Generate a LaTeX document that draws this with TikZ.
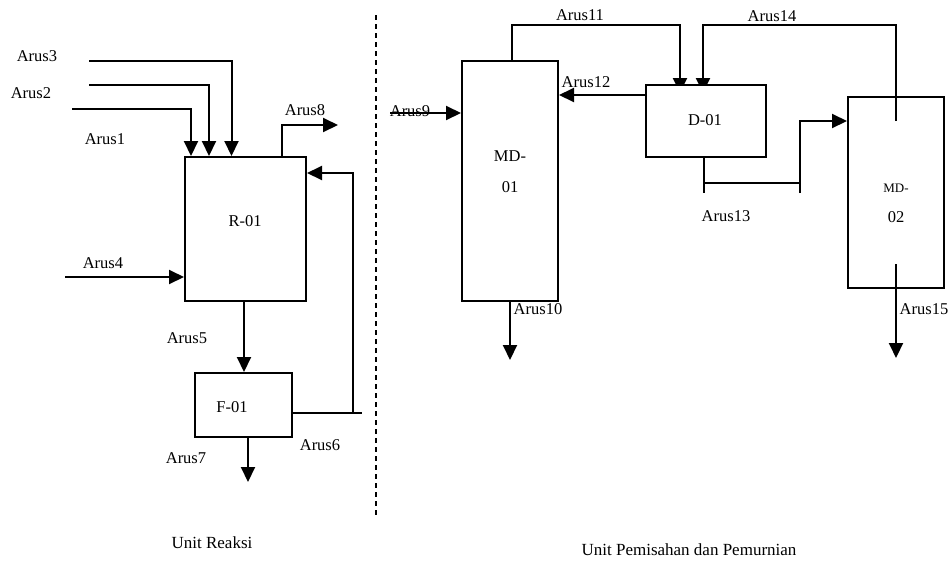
\documentclass[tikz,border=0pt]{standalone}
\usepackage{fontspec}
\setmainfont{Liberation Serif}
\usetikzlibrary{arrows.meta}
\pgfdeclarelayer{background}
\pgfsetlayers{background,main}
\begin{document}
\begin{tikzpicture}[x=1pt,y=-1pt,
  box/.style={draw,line width=2pt,fill=white,inner sep=0pt},
  lbl/.style={font=\fontsize{16.5}{18}\selectfont,inner sep=0pt},
  smalllbl/.style={font=\fontsize{13}{15}\selectfont,inner sep=0pt},
  unitlbl/.style={font=\fontsize{17}{19}\selectfont,inner sep=0pt},
  flow/.style={line width=2pt},
  arr/.style={flow,-{Triangle[length=15pt,width=14pt]}}]
\useasboundingbox (0,0) rectangle (952,563);
% boxes
\node[box,minimum width=121pt,minimum height=144pt] (R01) at (245.5,229) {};
\node[box,minimum width=97pt,minimum height=64pt] (F01) at (243.5,405) {};
\node[box,minimum width=96pt,minimum height=240pt] (MD01) at (510,181) {};
\node[box,minimum width=120pt,minimum height=72pt] (D01) at (706,121) {};
\node[box,minimum width=96pt,minimum height=191pt] (MD02) at (896,192.5) {};
% box texts
\node[lbl] (tR01) at (245,221) {R-01};
\node[lbl] (tF01) at (232,407) {F-01};
\node[lbl] (tMD01a) at (510,156) {MD-};
\node[lbl] (tMD01b) at (510,187) {01};
\node[lbl] (tD01) at (705,120) {D-01};
\node[smalllbl] (tMD02a) at (896,188) {MD-};
\node[lbl] (tMD02b) at (896,217) {02};
% coordinates
\coordinate (s3) at (89,61);
\coordinate (s2) at (89,85);
\coordinate (s1) at (72,109);
\coordinate (s4) at (65,277);
\coordinate (e8) at (338,125);
\coordinate (e7) at (248,482);
\coordinate (c6) at (362,413);
\coordinate (v6) at (353,413);
\coordinate (s9) at (390,113);
\coordinate (e10) at (510,360);
\coordinate (top11) at (512,25);
\coordinate (top14) at (896,25);
\coordinate (st14) at (896,121);
\coordinate (b13) at (704,193);
\coordinate (h13) at (704,183);
\coordinate (v13) at (800,193);
\coordinate (st15) at (896,264);
\coordinate (e15) at (896,358);
% left connectors
\draw[arr] (s3) -| ([xshift=47.5pt]R01.north west);
\draw[arr] (s2) -| ([xshift=25pt]R01.north west);
\draw[arr] (s1) -| ([xshift=7pt]R01.north west);
\draw[arr] (s4) -- (s4 -| R01.west);
\draw[arr] ([xshift=36.5pt]R01.north) |- (e8);
\draw[arr] (R01.south -| 244,0) -- (F01.north -| 244,0);
\draw[arr] (F01.south -| e7) -- (e7);
\draw[flow] (F01.east |- c6) -- (c6);
\draw[arr] (v6) |- (R01.east |- 0,173);
% right connectors
\draw[arr] (s9) -- (s9 -| MD01.west);
\draw[arr] (MD01.south -| e10) -- (e10);
\begin{pgfonlayer}{background}
\draw[arr] (MD01.north -| top11) -- (top11) -| (680,93);
\draw[arr] (st14) -- (top14) -| (703,93);
\end{pgfonlayer}
\draw[flow] (st14) -- (MD02.north -| st14);
\draw[arr] ([xshift=2pt]D01.west |- 0,95) -- (MD01.east |- 0,95);
\draw[flow] (D01.south -| b13) -- (b13);
\draw[flow] (h13) -- (h13 -| v13);
\draw[arr] (v13) |- (MD02.west |- 0,121);
\draw[arr] (st15) -- (e15);
% labels
\node[lbl] (l3) at (37,56) {Arus3};
\node[lbl] (l2) at (31,93) {Arus2};
\node[lbl] (l1) at (105,139) {Arus1};
\node[lbl] (l8) at (305,110) {Arus8};
\node[lbl] (l4) at (103,263) {Arus4};
\node[lbl] (l5) at (187,338) {Arus5};
\node[lbl] (l6) at (320,445) {Arus6};
\node[lbl] (l7) at (186,458) {Arus7};
\node[lbl] (l9) at (410,111) {Arus9};
\draw[flow] (s9) -- ([xshift=-15pt]s9 -| MD01.west);
\node[lbl] (l10) at (538,309) {Arus10};
\node[lbl] (l11) at (580,15) {Arus11};
\node[lbl] (l12) at (586,82) {Arus12};
\node[lbl] (l13) at (726,216) {Arus13};
\node[lbl] (l14) at (772,16) {Arus14};
\node[lbl] (l15) at (924,309) {Arus15};
% dividing line
\coordinate (dv1) at (376,15);
\coordinate (dv2) at (376,516);
\draw[line width=1.5pt,dash pattern=on 5pt off 4pt] (dv1) -- (dv2);
\node[unitlbl] (u1) at (212,543) {Unit Reaksi};
\node[unitlbl] (u2) at (689,550) {Unit Pemisahan dan Pemurnian};
\end{tikzpicture}
\end{document}
